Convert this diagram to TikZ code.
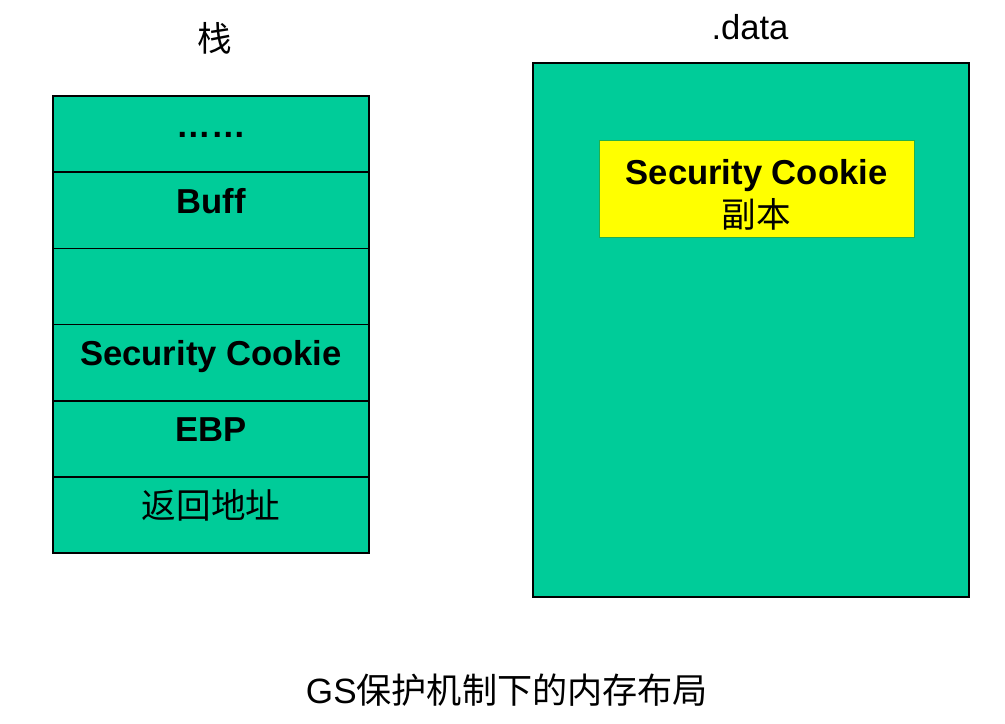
\documentclass[tikz,border=0pt]{standalone}
\usepackage{fontspec}
\setmainfont{Liberation Sans}
\newfontfamily\cjk{Noto Sans CJK SC}
\usepackage{tikz}

\definecolor{memGreen}{HTML}{00CC99}
\definecolor{copyYellow}{HTML}{FFFF00}
\definecolor{copyEdge}{HTML}{22B14C}

\begin{document}
\begin{tikzpicture}[x=0.02cm,y=-0.02cm,
	cell/.style={draw, line width=0.8pt, fill=memGreen, inner sep=0pt,
		minimum width=6.32cm, minimum height=1.523cm,
		text height=0.8em, text depth=0.45em,
		font=\bfseries\fontsize{19.7}{24}\selectfont},
	caption/.style={font=\fontsize{19.7}{24}\selectfont}]

	\useasboundingbox (0,0) rectangle (1005,724);

	% Draw stack
	\node[cell] (dots) at (211,134.1) {……};
	\node[cell] (buff) at (211,210.3) {Buff};
	\node[cell] (gap) at (211,286.5) {};
	\node[cell] (cookie) at (211,362.7) {Security Cookie};
	\node[cell] (ebp) at (211,438.9) {EBP};
	\node[cell] (ret) at (211,515.1) {\cjk\mdseries 返回地址};

	% Draw data section
	\node[draw, line width=0.8pt, fill=memGreen, inner sep=0pt,
		minimum width=8.72cm, minimum height=10.68cm] (data) at (751,330) {};
	\node[draw=copyEdge, line width=0.5pt, fill=copyYellow, inner sep=0pt,
		minimum width=6.3cm, minimum height=1.94cm, align=center,
		font=\bfseries\fontsize{19.7}{24.5}\selectfont] (copy) at (756.5,188.5)
		{\rule{0pt}{21pt}Security Cookie\\{\cjk\mdseries 副本}};

	% Labels
	\node[caption] (stacklbl) at (215,38) {\cjk 栈};
	\node[caption] (datalbl) at (750,27) {.data};
	\node[font=\fontsize{20}{24}\selectfont] (title) at (507,690) {GS{\cjk 保护机制下的内存布局}};

\end{tikzpicture}
\end{document}
